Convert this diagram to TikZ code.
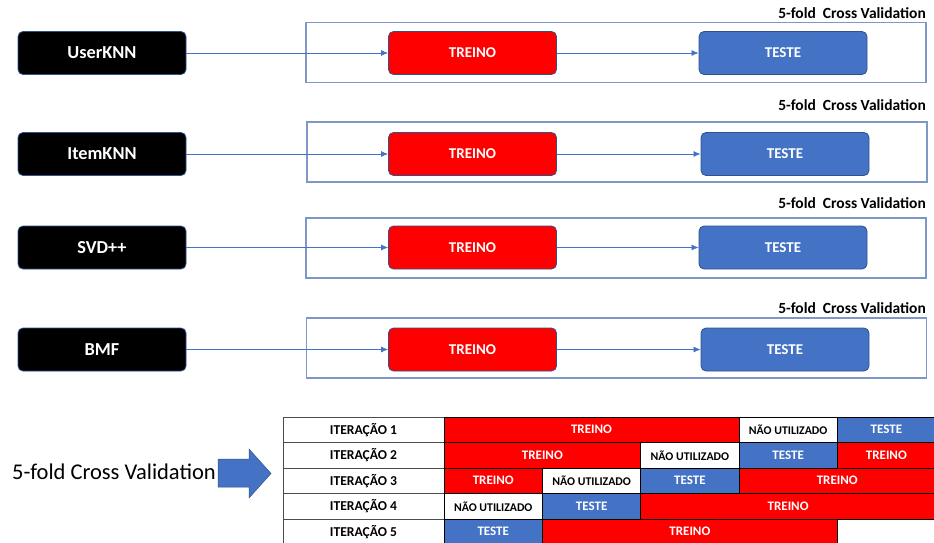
\documentclass[tikz,border=0pt]{standalone}
\usepackage{fontspec}
\setmainfont{Carlito}
\usetikzlibrary{arrows.meta}
\definecolor{accblue}{HTML}{4472C4}
\definecolor{darkb}{HTML}{2F528F}
\definecolor{framec}{HTML}{7F96C8}
\newcommand{\mycell}[6]{%
  \node[cell,#5,minimum width={(#3-#2)*1pt}] (#1) at ({(#2+#3)/2},{417+25.5*(#4-1)+12.75}) {#6};}
\begin{document}
\begin{tikzpicture}[x=1pt,y=-1pt,
  algo/.style={draw=darkb, line width=0.8pt, fill=black, rounded corners=5pt,
    minimum width=168pt, minimum height=43pt, inner sep=0pt, text=white,
    font=\bfseries\fontsize{18.3}{20}\selectfont},
  trainbox/.style={algo, fill=red, font=\bfseries\fontsize{15}{17}\selectfont},
  testbox/.style={trainbox, fill=accblue},
  cvframe/.style={draw=framec, line width=1.2pt, minimum width=620pt, minimum height=60pt, inner sep=0pt},
  conn/.style={draw=accblue, line width=0.7pt, -{Latex[length=7pt,width=6pt]}},
  cvlabel/.style={anchor=east, inner sep=0pt, font=\bfseries\fontsize{15.5}{17}\selectfont},
  cell/.style={draw=black, line width=0.6pt, minimum height=25.5pt, inner sep=0pt,
    font=\bfseries\fontsize{13}{15}\selectfont},
  lab/.style={fill=white, draw=black!70, font=\bfseries\fontsize{13.6}{15}\selectfont},
  tr/.style={fill=red, text=white},
  te/.style={fill=accblue, text=white},
  nu/.style={fill=white, text=black, font=\bfseries\fontsize{11.8}{13}\selectfont}
]
\useasboundingbox (0,0) rectangle (934,543);

% ---- row 1
\node[cvframe] (f1) at (616,52.5) {};
\node[cvlabel] (l1) at (926,13) {5-fold\ \ Cross Validation};
\node[algo] (a1) at (102,53) {UserKNN};
\node[trainbox] (r1) at (472.5,53) {TREINO};
\node[testbox] (t1) at (783,53) {TESTE};
\draw[conn] (a1) -- (r1);
\draw[conn] (r1) -- (t1);

% ---- row 2
\node[cvframe] (f2) at (617,152) {};
\node[cvlabel] (l2) at (926,105.5) {5-fold\ \ Cross Validation};
\node[algo] (a2) at (102,154) {ItemKNN};
\node[trainbox] (r2) at (472.5,154) {TREINO};
\node[testbox] (t2) at (785,154) {TESTE};
\draw[conn] (a2) -- (r2);
\draw[conn] (r2) -- (t2);

% ---- row 3
\node[cvframe] (f3) at (616,248) {};
\node[cvlabel] (l3) at (926,203) {5-fold\ \ Cross Validation};
\node[algo] (a3) at (102,247.5) {SVD++};
\node[trainbox] (r3) at (472.5,247.5) {TREINO};
\node[testbox] (t3) at (783,247.5) {TESTE};
\draw[conn] (a3) -- (r3);
\draw[conn] (r3) -- (t3);

% ---- row 4
\node[cvframe] (f4) at (616.5,348) {};
\node[cvlabel] (l4) at (926,308) {5-fold\ \ Cross Validation};
\node[algo] (a4) at (102,349.5) {BMF};
\node[trainbox] (r4) at (472.5,349.5) {TREINO};
\node[testbox] (t4) at (785,349.5) {TESTE};
\draw[conn] (a4) -- (r4);
\draw[conn] (r4) -- (t4);

% ---- bottom label and block arrow
\node[inner sep=0pt, font=\fontsize{22.5}{24}\selectfont] (cvtext) at (114,472) {5-fold Cross Validation};
\filldraw[fill=accblue, draw=darkb, line width=0.5pt]
  (218,459) -- (249,459) -- (249,449) -- (271,473.5) -- (249,498) -- (249,487) -- (218,487) -- cycle;

% ---- table
\mycell{i1}{283}{444}{1}{lab}{ITERAÇÃO 1}
\mycell{i2}{283}{444}{2}{lab}{ITERAÇÃO 2}
\mycell{i3}{283}{444}{3}{lab}{ITERAÇÃO 3}
\mycell{i4}{283}{444}{4}{lab}{ITERAÇÃO 4}
\mycell{i5}{283}{444}{5}{lab}{ITERAÇÃO 5}

\mycell{c11}{444}{739}{1}{tr}{TREINO}
\mycell{c12}{739}{837.25}{1}{nu}{NÃO UTILIZADO}
\mycell{c13}{837.25}{935.5}{1}{te}{TESTE}

\mycell{c21}{444}{640.75}{2}{tr}{TREINO}
\mycell{c22}{640.75}{739}{2}{nu}{NÃO UTILIZADO}
\mycell{c23}{739}{837.25}{2}{te}{TESTE}
\mycell{c24}{837.25}{935.5}{2}{tr}{TREINO}

\mycell{c31}{444}{542.5}{3}{tr}{TREINO}
\mycell{c32}{542.5}{640.75}{3}{nu}{NÃO UTILIZADO}
\mycell{c33}{640.75}{739}{3}{te}{TESTE}
\mycell{c34}{739}{935.5}{3}{tr}{TREINO}

\mycell{c41}{444}{542.5}{4}{nu}{NÃO UTILIZADO}
\mycell{c42}{542.5}{640.75}{4}{te}{TESTE}
\mycell{c43}{640.75}{935.5}{4}{tr}{TREINO}

\mycell{c51}{444}{542.5}{5}{te}{TESTE}
\mycell{c52}{542.5}{837.25}{5}{tr}{TREINO}
\end{tikzpicture}
\end{document}
